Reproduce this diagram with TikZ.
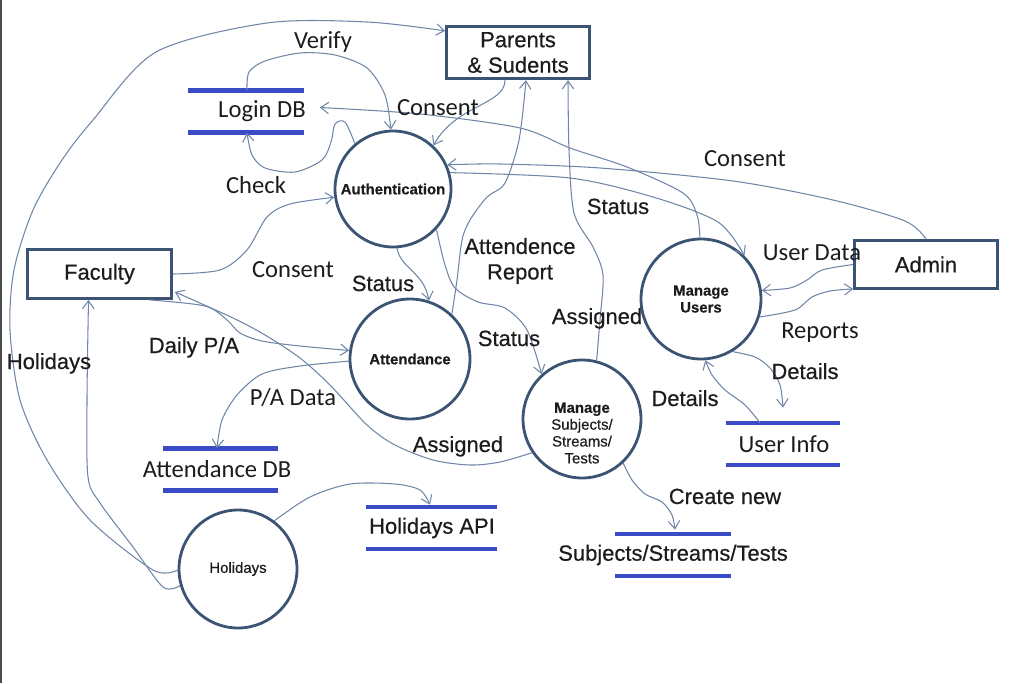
\documentclass[tikz,border=0pt]{standalone}
\usepackage{fontspec}
\setmainfont{Liberation Sans}[FakeBold=0.5]
\newfontfamily\carl{Carlito}
\usetikzlibrary{arrows.meta,calc}
\definecolor{bord}{HTML}{3C5474}
\definecolor{flowc}{HTML}{6F86A6}
\definecolor{dbblue}{HTML}{3B4BC6}
\definecolor{txt}{HTML}{1C1C1C}
\newcommand\lblfont{\fontsize{12.5}{14.5}\selectfont}
\newcommand\calfont{\carl\fontsize{14}{16}\selectfont}
\newcommand\procfont{\fontsize{8.5}{9.6}\selectfont}

\begin{document}
\begin{tikzpicture}[x=0.02cm, y=-0.02cm,
  proc/.style={circle, draw=bord, line width=1.6pt, minimum size=2.36cm, inner sep=0pt, align=center, font=\procfont\bfseries, text=txt},
  ptext/.style={align=center, inner sep=0pt, font=\procfont, text=txt},
  ent/.style={draw=bord, line width=1.6pt, minimum width=2.86cm, minimum height=0.96cm, align=center, font=\lblfont, text=txt},
  dbtext/.style={minimum height=0.84cm, inner sep=1pt, text=txt},
  lbl/.style={anchor=base, inner sep=0pt, font=\lblfont, text=txt},
  clbl/.style={lbl, font=\calfont},
  dbline/.style={dbblue, line width=2.8pt},
  flow/.style={flowc, line width=0.6pt, -{Straight Barb[length=4.5pt,width=6.5pt]}},
  ]
\useasboundingbox (0,0) rectangle (1024,683);
\draw[gray!60!black, line width=1.1pt] (1,0) -- (1,683);

% external entities
\node[ent] (par) at (518,52.5) {Parents\\\& Sudents};
\node[ent, minimum width=2.88cm, minimum height=0.98cm] (fac) at (99.5,274) {Faculty};
\node[ent] (adm) at (926,264.5) {Admin};

% processes
\node[proc, minimum size=2.32cm] (auth) at (393,189) {Authentication};
\node[proc, minimum size=2.4cm] (att) at (410,359) {Attendance};
\node[proc, minimum size=2.4cm] (musr) at (701,299) {Manage\\Users};
\node[proc] (msub) at (582,419) {};
\node[ptext] (msubt) at (582,433) {\textbf{Manage}\\Subjects/\\Streams/\\Tests};
\node[proc, font=\procfont] (hol) at (238,569) {Holidays};

% data stores
\foreach \n/\x/\y/\w/\tx/\lab in {ldb/246/111.5/58/262/{\calfont Login DB},
    adb/220.5/469.5/57.5/217/{\calfont Attendance DB},
    uinf/783/444/57/784/{\calfont User Info},
    hapi/431.5/528/65.5/432/{\lblfont Holidays API},
    sst/673/555/58/673/{\lblfont Subjects/Streams/Tests}} {
  \draw[dbline] (\x-\w,\y-21) -- (\x+\w,\y-21) (\x-\w,\y+21) -- (\x+\w,\y+21);
  \node[dbtext] (\n) at (\tx,\y) {\lab};
}

\coordinate (parL) at ($(par.north west)+(0,6)$);
\coordinate (parB1) at ($(par.south)+(-13,0)$);
\coordinate (parB2) at ($(par.south)+(8,0)$);
\coordinate (parB3) at ($(par.south)+(50,0)$);
\coordinate (facB) at ($(fac.south)+(-11,0)$);
\coordinate (facB2) at ($(fac.south)+(50,0)$);
\coordinate (facR) at ($(fac.south east)+(2,-8)$);
\coordinate (ldbT) at ($(ldb.north)+(-15,0)$);
\coordinate (ldbB) at ($(ldb.south)+(-15,0)$);
\coordinate (ldbR) at ($(ldb.east)+(12,-4)$);
\coordinate (admR) at ($(adm.south west)+(0,-1)$);
\coordinate (uinfT) at ($(uinf.north)+(-1,-15)$);
\coordinate (uinfS) at ($(uinf.north)+(-24,0)$);
\coordinate (sstT) at ($(sst.north)+(2,-4)$);
\coordinate (hapiT) at ($(hapi.north)+(-2,-2)$);

% flows
\draw[flow] plot[smooth] coordinates {(hol.181) (153,570) (90,520) (47,460) (20,400) (10,330) (14,270) (33,210) (62,160) (93,120) (156,52) (267,23) (367,22) (parL)};
\draw[flow] plot[smooth] coordinates {(hol.196) (163,587) (133,547) (100,503) (88,477) (87,400) (facB)};
\draw[flow] plot[smooth] coordinates {(ldbT) (249,72) (265,61) (300,53) (335,55) (367,68) (385,95) (auth.92)};
\draw[flow] (parB1) .. controls (505,105) and (455,105) .. (auth.47);
\draw[flow] plot[smooth] coordinates {(auth.130) (345,122) (335,124) (331,142) (322,160) (295,172) (265,168) (252,155) (ldbB)};
\draw[flow] plot[smooth] coordinates {(adm.north) (905,221) (833,200) (733,181) (600,168) (500,164) (auth.24)};
\draw[flow] plot[smooth] coordinates {(auth.16) (570,178) (653,197) (718,222) (musr.45)};
\draw[flow] plot[smooth] coordinates {(musr.91) (697,215) (683,193) (627,167) (570,148) (520,128) (420,114) (ldbR)};
\draw[flow] plot[smooth] coordinates {(att.47) (457,280) (462,240) (470,220) (487,197) (505,183) (519,140) (parB2)};
\draw[flow] plot[smooth] coordinates {(msub.76) (600,320) (603,275) (593,247) (574,213) (569,150) (parB3)};
\draw[flow] (auth.274) .. controls (400,268) and (424,272) .. (att.72);
\draw[flow] plot[smooth] coordinates {(auth.317) (445,265) (455,288) (478,302) (505,308) (527,330) (msub.132)};
\draw[flow] plot[smooth] coordinates {(fac.east) (220,270) (247,250) (267,217) (290,204) (auth.188)};
\draw[flow] plot[smooth] coordinates {(facB2) (205,306) (227,320) (240,333) (262,341) (300,346) (att.172)};
\draw[flow] plot[smooth] coordinates {(msub.214) (500,462) (470,465) (433,460) (395,445) (367,425) (330,385) (300,358) (265,335) (233,318) (facR)};
\draw[flow] plot[smooth] coordinates {(att.182) (300,366) (262,374) (237,395) (222,420) (adb.north)};
\draw[flow] plot[smooth] coordinates {(adm.west) (822,270) (807,280) (790,288) (musr.8)};
\draw[flow] plot[smooth] coordinates {(musr.343) (795,310) (812,297) (830,291) (admR)};
\draw[flow] plot[smooth] coordinates {(musr.301) (755,357) (770,368) (780,385) (uinfT)};
\draw[flow] plot[smooth] coordinates {(uinfS) (745,405) (725,390) (712,375) (musr.274)};
\draw[flow] plot[smooth] coordinates {(msub.313) (632,480) (645,494) (662,502) (672,515) (sstT)};
\draw[flow] plot[smooth] coordinates {(hol.53) (310,497) (350,484) (395,484) (420,490) (hapiT)};

% flow labels
\foreach \n/\x/\y/\lab in {lverify/323/48/Verify, lcons1/438/115/Consent, lcheck/256/193/Check,
    lcons2/745/166/Consent, lcons3/293/277/Consent, ludata/812/260/User Data,
    lrep/820/338/Reports, lpad/293/405/{P/A Data}}
  \node[clbl] (\n) at (\x,\y) {\lab};
\foreach \n/\x/\y/\lab in {lstat1/618/214/Status, lstat2/383/291/Status, lstat3/509/346/Status,
    lasg1/597/324/Assigned, lasg2/458/452/Assigned, ldaily/194/353/{Daily P/A},
    lhol/49/369/Holidays, ldet1/805/379/Details, ldet2/685/406/Details,
    lcreate/725/504/Create new}
  \node[lbl] (\n) at (\x,\y) {\lab};
\node[ptext, font=\lblfont] (lattrep) at (520,261) {Attendence\\Report};
\end{tikzpicture}
\end{document}
